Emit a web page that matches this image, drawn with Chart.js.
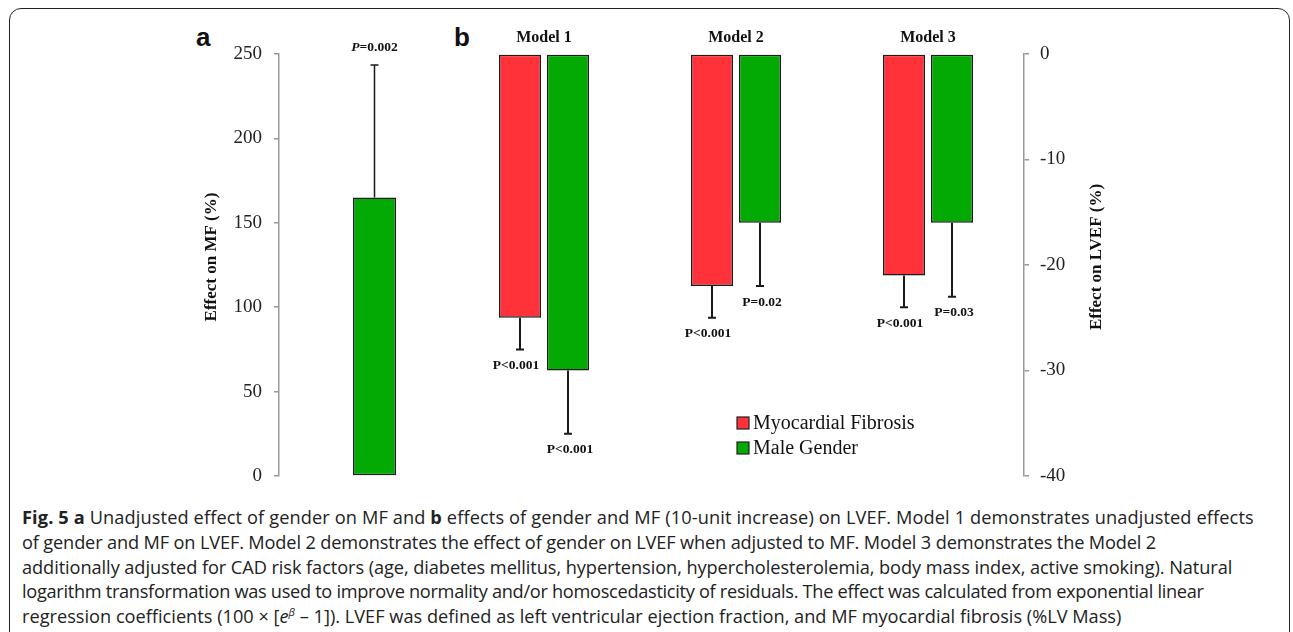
<!DOCTYPE html>
<html>
<head>
<meta charset="utf-8">
<script src="https://cdn.jsdelivr.net/npm/chart.js@4.4.0/dist/chart.umd.min.js"></script>
<style>
    body { margin: 0; background: #fff; width: 1293px; height: 632px; overflow: hidden; position: relative; }
    #frame { position: absolute; left: 9px; top: 8px; width: 1281px; height: 640px; border: 1.5px solid #222; border-radius: 12px; box-sizing: border-box; }
    #canvasA { position: absolute; left: 150px; top: 0; }
    #canvasB { position: absolute; left: 440px; top: 0; }
    .panel { position: absolute; font: bold 26px "Liberation Sans", Arial, sans-serif; color: #111; line-height: 26px; }
    #caption { position: absolute; left: 22px; top: 505px; font-family: "Open Sans", sans-serif; font-size: 18.2px; line-height: 24.75px; color: #222; white-space: nowrap; }
    #caption div { height: 24.75px; }
    #caption sup { font-size: 11px; line-height: 0; }
</style>
</head>
<body>
<div id="frame"></div>
<div class="panel" style="left:196px; top:24px;">a</div>
<div class="panel" style="left:454px; top:24px;">b</div>
<canvas id="canvasA" width="320" height="500"></canvas>
<canvas id="canvasB" width="700" height="500"></canvas>
<div id="caption">
    <div style="letter-spacing:0.12px"><b>Fig. 5</b> <b>a</b> Unadjusted effect of gender on MF and <b>b</b> effects of gender and MF (10-unit increase) on LVEF. Model 1 demonstrates unadjusted effects</div>
    <div style="letter-spacing:-0.15px">of gender and MF on LVEF. Model 2 demonstrates the effect of gender on LVEF when adjusted to MF. Model 3 demonstrates the Model 2</div>
    <div style="letter-spacing:-0.07px">additionally adjusted for CAD risk factors (age, diabetes mellitus, hypertension, hypercholesterolemia, body mass index, active smoking). Natural</div>
    <div style="letter-spacing:-0.3px">logarithm transformation was used to improve normality and/or homoscedasticity of residuals. The effect was calculated from exponential linear</div>
    <div>regression coefficients (100 × [<i>e</i><sup><i>β</i></sup> – 1]). LVEF was defined as left ventricular ejection fraction, and MF myocardial fibrosis (%LV Mass)</div>
</div>
<script>
// Données du panneau a (effet du sexe sur MF)
const mfCategories = ['Male Gender'];
const mfEffect = [165];
const mfUpper = [243.5];
const mfPValues = ['P=0.002'];
const mfTicks = [0, 50, 100, 150, 200, 250];

// Données du panneau b (effets sur LVEF)
const modelLabels = ['Model 1', 'Model 2', 'Model 3'];
const fibrosisEffect = [-25, -22, -21];
const fibrosisLower = [-28, -25, -24];
const fibrosisPValues = ['P<0.001', 'P<0.001', 'P<0.001'];
const genderEffect = [-30, -16, -16];
const genderLower = [-36, -22, -23];
const genderPValues = ['P<0.001', 'P=0.02', 'P=0.03'];
const lvefTicks = [0, -10, -20, -30, -40];

const RED = '#ff323a';
const GREEN = '#03aa03';
const SERIF = '"Liberation Serif", "Times New Roman", serif';

// Barres d'erreur + valeurs P
const errorBarPlugin = {
    id: 'errorBars',
    afterDatasetsDraw(chart, args, opts) {
        const ctx = chart.ctx;
        const yScale = chart.scales.y;
        chart.data.datasets.forEach((ds, i) => {
            const meta = chart.getDatasetMeta(i);
            meta.data.forEach((bar, j) => {
                const ey = yScale.getPixelForValue(ds.errorEnd[j]);
                ctx.save();
                ctx.strokeStyle = '#1a1a1a';
                ctx.lineWidth = opts.lineWidth;
                ctx.beginPath();
                ctx.moveTo(bar.x, bar.y);
                ctx.lineTo(bar.x, ey);
                ctx.moveTo(bar.x - opts.cap, ey);
                ctx.lineTo(bar.x + opts.cap, ey);
                ctx.stroke();

                const dir = ey < bar.y ? -1 : 1;
                const ly = ey + dir * opts.labelGap;
                const lx = bar.x + (ds.labelShift || 0);
                const text = ds.pValues[j];
                ctx.fillStyle = '#111';
                ctx.textBaseline = 'middle';
                ctx.textAlign = 'left';
                if (opts.italicP) {
                    const fItalic = 'italic bold 13.5px ' + SERIF;
                    const fBold = 'bold 13.5px ' + SERIF;
                    ctx.font = fItalic;
                    const w1 = ctx.measureText('P').width;
                    ctx.font = fBold;
                    const w2 = ctx.measureText(text.slice(1)).width;
                    const x0 = lx - (w1 + w2) / 2;
                    ctx.font = fItalic;
                    ctx.fillText('P', x0, ly);
                    ctx.font = fBold;
                    ctx.fillText(text.slice(1), x0 + w1, ly);
                } else {
                    ctx.font = 'bold 13.5px ' + SERIF;
                    ctx.textAlign = 'center';
                    ctx.fillText(text, lx, ly);
                }
                ctx.restore();
            });
        });
    }
};

// Titre vertical de l'axe y (lu de bas en haut)
const axisTitlePlugin = {
    id: 'axisTitle',
    afterDraw(chart, args, opts) {
        const ctx = chart.ctx;
        const scale = chart.scales.y;
        const axisX = scale.position === 'left' ? scale.right : scale.left;
        const area = chart.chartArea;
        ctx.save();
        ctx.translate(axisX + opts.offset, (area.top + area.bottom) / 2 + opts.shiftY);
        ctx.rotate(-Math.PI / 2);
        ctx.font = 'bold 17px ' + SERIF;
        ctx.fillStyle = '#111';
        ctx.textAlign = 'center';
        ctx.textBaseline = 'middle';
        ctx.fillText(opts.text, 0, 0);
        ctx.restore();
    }
};

// Légende à carrés dans la zone du graphique
const boxLegendPlugin = {
    id: 'boxLegend',
    afterDraw(chart, args, opts) {
        if (!opts.show) return;
        const ctx = chart.ctx;
        const area = chart.chartArea;
        chart.data.datasets.forEach((ds, i) => {
            const cy = opts.top + i * opts.rowGap;
            const x = area.left + opts.left;
            ctx.save();
            ctx.fillStyle = ds.backgroundColor;
            ctx.fillRect(x, cy - 6, 12, 12);
            ctx.strokeStyle = '#222';
            ctx.lineWidth = 1.2;
            ctx.strokeRect(x, cy - 6, 12, 12);
            ctx.font = '20px ' + SERIF;
            ctx.fillStyle = '#111';
            ctx.textBaseline = 'middle';
            ctx.textAlign = 'left';
            ctx.fillText(ds.label, x + 16, cy + 1);
            ctx.restore();
        });
    }
};

const tickFont = { family: SERIF, size: 19 };

// Panneau a
new Chart(document.getElementById('canvasA').getContext('2d'), {
    type: 'bar',
    data: {
        labels: mfCategories,
        datasets: [{
            label: 'Male Gender',
            data: mfEffect,
            errorEnd: mfUpper,
            pValues: mfPValues,
            backgroundColor: GREEN,
            borderColor: '#1a1a1a',
            borderWidth: 1.5,
            borderSkipped: false,
            categoryPercentage: 1,
            barPercentage: 0.225
        }]
    },
    options: {
        responsive: false,
        animation: false,
        layout: { padding: { top: 54, bottom: 24, left: 0, right: 0 } },
        plugins: {
            legend: { display: false },
            tooltip: { enabled: false },
            errorBars: { lineWidth: 1.5, cap: 4, labelGap: 17, italicP: true },
            axisTitle: { text: 'Effect on MF (%)', offset: -67, shiftY: -8 },
            boxLegend: { show: false }
        },
        scales: {
            x: { display: false },
            y: {
                min: mfTicks[0],
                max: mfTicks[mfTicks.length - 1],
                afterFit(scale) { scale.width = 129; },
                afterBuildTicks(scale) { scale.ticks = mfTicks.map(v => ({ value: v })); },
                ticks: { font: tickFont, color: '#222', padding: 12 },
                grid: { drawOnChartArea: false, tickLength: 5, color: '#999', lineWidth: 1.5 },
                border: { color: '#999', width: 1.5 }
            }
        }
    },
    plugins: [errorBarPlugin, axisTitlePlugin, boxLegendPlugin]
});

// Panneau b
new Chart(document.getElementById('canvasB').getContext('2d'), {
    type: 'bar',
    data: {
        labels: modelLabels,
        datasets: [
            {
                label: 'Myocardial Fibrosis',
                data: fibrosisEffect,
                errorEnd: fibrosisLower,
                pValues: fibrosisPValues,
                labelShift: -4,
                backgroundColor: RED,
                borderColor: '#1a1a1a',
                borderWidth: 1.5,
                borderSkipped: false
            },
            {
                label: 'Male Gender',
                data: genderEffect,
                errorEnd: genderLower,
                pValues: genderPValues,
                labelShift: 2,
                backgroundColor: GREEN,
                borderColor: '#1a1a1a',
                borderWidth: 1.5,
                borderSkipped: false
            }
        ]
    },
    options: {
        responsive: false,
        animation: false,
        categoryPercentage: 0.5,
        barPercentage: 0.875,
        layout: { padding: { top: 24, bottom: 24, left: 8, right: 0 } },
        plugins: {
            legend: { display: false },
            tooltip: { enabled: false },
            errorBars: { lineWidth: 2, cap: 4, labelGap: 16, italicP: false },
            axisTitle: { text: 'Effect on LVEF (%)', offset: 73, shiftY: -8 },
            boxLegend: { show: true, left: 289, top: 423, rowGap: 25 }
        },
        scales: {
            x: {
                position: 'top',
                afterFit(scale) { scale.height = 30; },
                ticks: { font: { family: SERIF, size: 16, weight: 'bold' }, color: '#111', padding: 7 },
                grid: { display: false, drawTicks: false, tickLength: 0 },
                border: { display: false }
            },
            y: {
                position: 'right',
                min: lvefTicks[lvefTicks.length - 1],
                max: lvefTicks[0],
                afterFit(scale) { scale.width = 116; },
                afterBuildTicks(scale) { scale.ticks = lvefTicks.map(v => ({ value: v })); },
                ticks: { font: tickFont, color: '#222', padding: 11 },
                grid: { drawOnChartArea: false, tickLength: 5, color: '#999', lineWidth: 1.5 },
                border: { color: '#999', width: 1.5 }
            }
        }
    },
    plugins: [errorBarPlugin, axisTitlePlugin, boxLegendPlugin]
});
</script>
</body>
</html>
